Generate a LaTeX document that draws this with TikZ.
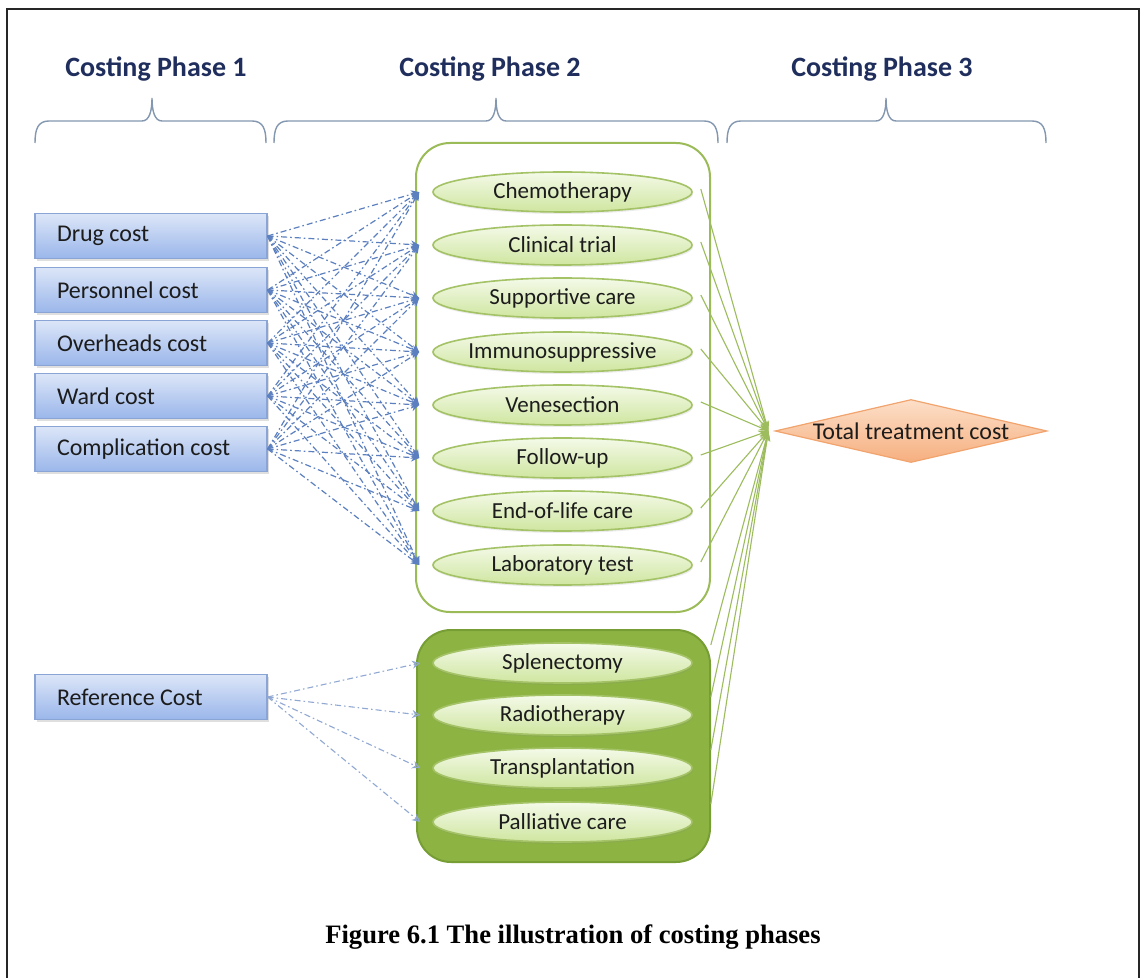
\documentclass[tikz,border=0pt]{standalone}
\usepackage{fontspec}
\setmainfont{Carlito}
\newfontfamily\capfont{Liberation Serif}
\usetikzlibrary{arrows.meta,shapes.geometric,shadows}
\definecolor{headblue}{HTML}{1F2E5C}
\definecolor{braceblue}{HTML}{8497B0}
\definecolor{boxtop}{HTML}{DCE6F8}
\definecolor{boxbot}{HTML}{9AB6EA}
\definecolor{boxborder}{HTML}{8AA5D5}
\definecolor{pilltop}{HTML}{F4FAE8}
\definecolor{pillbot}{HTML}{CFE6A0}
\definecolor{pillborder}{HTML}{A4C266}
\definecolor{contgreen}{HTML}{9BBB59}
\definecolor{lowfill}{HTML}{8DB443}
\definecolor{lowborder}{HTML}{779E34}
\definecolor{diamtop}{HTML}{FCDFC8}
\definecolor{diambot}{HTML}{F6AF7F}
\definecolor{diamborder}{HTML}{F1A46E}
\definecolor{linegreen}{HTML}{9DBC5E}
\definecolor{dashblue}{HTML}{5C80BF}
\definecolor{refblue}{HTML}{90A8D2}
\definecolor{textdark}{HTML}{1C1C1C}
\newcommand\ctext[1]{\makebox[0pt]{#1}}
\newcommand\ltext[1]{\makebox[94pt][l]{#1}}
% curly brace pointing up: left x, middle x, right x
\newcommand\phasebrace[3]{%
  \draw[bracestyle] (#1,143) .. controls (#1,129) and (#1+3,121) .. (#1+14,121)
    -- (#2-10,121) .. controls (#2-3,121) and (#2,112) .. (#2,98)
    .. controls (#2,112) and (#2+3,121) .. (#2+10,121)
    -- (#3-14,121) .. controls (#3-3,121) and (#3,129) .. (#3,143);}
\begin{document}
\begin{tikzpicture}[x=0.5pt,y=-0.5pt,
  head/.style={font={\bfseries\fontsize{14pt}{16pt}\selectfont}, text=headblue, inner sep=0pt},
  bracestyle/.style={draw=braceblue, line width=0.7pt},
  costbox/.style={rectangle, draw=boxborder, line width=0.6pt, top color=boxtop, bottom color=boxbot,
    minimum width=116pt, minimum height=22.5pt, inner xsep=11pt, inner ysep=0pt,
    text=textdark, font={\fontsize{12pt}{14pt}\selectfont},
    drop shadow={opacity=0.25, shadow xshift=0.8pt, shadow yshift=-1.2pt}},
  pill/.style={ellipse, draw=pillborder, line width=0.8pt, top color=pilltop, bottom color=pillbot,
    minimum width=129.5pt, minimum height=20pt, inner sep=0pt, text=textdark,
    font={\fontsize{11.5pt}{13pt}\selectfont},
    drop shadow={opacity=0.15, shadow xshift=0.5pt, shadow yshift=-1pt}},
  upcont/.style={rectangle, rounded corners=17pt, draw=contgreen, line width=1pt, fill=white,
    minimum width=147pt, minimum height=234.5pt, inner sep=0pt},
  lowcont/.style={rectangle, rounded corners=17pt, draw=lowborder, line width=1pt, fill=lowfill,
    minimum width=146.5pt, minimum height=116pt, inner sep=0pt},
  diam/.style={diamond, draw=diamborder, line width=0.6pt, top color=diamtop, bottom color=diambot,
    minimum width=136pt, minimum height=31.5pt, inner sep=0pt},
  bluearrow/.style={draw=dashblue, line width=0.6pt, dash pattern=on 3pt off 1.5pt on 0.8pt off 1.5pt,
    -{Stealth[length=4pt, width=4pt]}},
  refarrow/.style={draw=refblue, line width=0.55pt, dash pattern=on 3pt off 1.5pt on 0.8pt off 1.5pt,
    -{Stealth[length=4pt, width=4pt, open]}},
  greenarrow/.style={draw=linegreen, line width=0.55pt, -{Stealth[length=5pt, width=3.5pt]}}
]
\useasboundingbox (0,0) rectangle (1141,978);
\fill[white] (0,0) rectangle (1141,978);
\draw[line width=1pt, black!85] (7,990) -- (7,9) -- (1139,9) -- (1139,990);

% headings
\node[head] (h1) at (156,69) {Costing Phase 1};
\node[head] (h2) at (490,69) {Costing Phase 2};
\node[head] (h3) at (882,69) {Costing Phase 3};

% braces
\phasebrace{35}{152}{266}
\phasebrace{274}{496}{718}
\phasebrace{727}{886}{1046}

% containers
\node[upcont] (upbox) at (563,377.5) {};
\node[lowcont] (lowbox) at (563.5,746) {};

% left boxes
\foreach \n/\t/\y in {dr/Drug cost/236, pe/Personnel cost/290, ov/Overheads cost/343,
  wa/Ward cost/396, co/Complication cost/449, rf/Reference Cost/697}
  \node[costbox] (\n) at (151,\y) {\ltext{\t}};

% treatments
\foreach \n/\t/\y in {ch/Chemotherapy/192, cl/Clinical trial/245, su/Supportive care/298,
  im/Immunosuppressive/352, ve/Venesection/405, fo/Follow-up/458,
  en/End-of-life care/511, la/Laboratory test/565,
  sp/Splenectomy/663, ra/Radiotherapy/715, tr/Transplantation/768, pa/Palliative care/822}
  \node[pill] (\n) at (562.5,\y) {\ctext{\t}};

% total
\node[diam, label={[text=textdark, font={\fontsize{12pt}{14pt}\selectfont}]center:Total treatment cost}] (total) at (911,431) {};

% connectors phase 1 -> phase 2
\foreach \s in {dr,pe,ov,wa,co}
  \foreach \e in {ch,cl,su,im,ve,fo,en,la}
    \draw[bluearrow] (\s.east) -- ([xshift=-6.5pt]\e.west);
\foreach \e in {sp,ra,tr,pa}
  \draw[refarrow] (rf.east) -- ([xshift=-6pt]\e.west);

% connectors phase 2 -> phase 3
\foreach \e in {ch,cl,su,im,ve,fo,en,la}
  \draw[greenarrow] ([shift={(4pt,1.5pt)}]\e.east) -- ([xshift=-3pt]total.west);
\foreach \e in {sp,ra,tr,pa}
  \draw[greenarrow] ([shift={(9pt,9pt)}]\e.east) -- ([xshift=-3pt]total.west);

% caption
\node[font={\capfont\bfseries\fontsize{13.3pt}{16pt}\selectfont}, inner sep=0pt] (cap) at (573,937)
  {Figure 6.1 The illustration of costing phases};
\end{tikzpicture}
\end{document}
